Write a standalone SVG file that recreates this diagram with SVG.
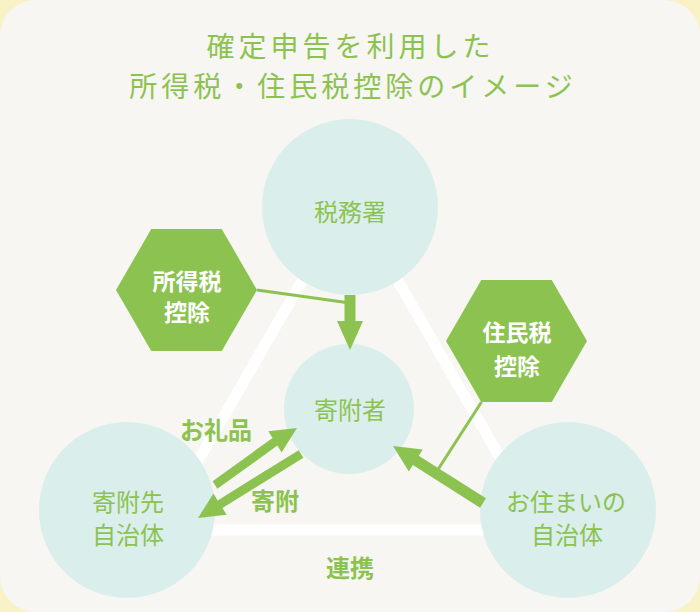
<svg xmlns="http://www.w3.org/2000/svg" width="700" height="612" viewBox="0 0 700 612">
<style>
.t{font-family:"Noto Sans CJK JP","Noto Sans",sans-serif;fill:#8cc350;text-anchor:middle}
.title{font-size:28px;font-weight:400;letter-spacing:4px}
.cl{font-size:24px;font-weight:400}
.hx{font-size:23px;font-weight:700;fill:#ffffff}
.lb{font-size:24px;font-weight:700}
.circ{fill:#daeeec}
.hex{fill:#8cc350}
.ar{fill:#8cc350}
.ln{stroke:#8cc350;stroke-width:3;fill:none}
</style>
<rect x="0" y="0" width="700" height="612" fill="#f8f2c6"/>
<rect x="0" y="0" width="700" height="612" rx="36" fill="#f7f6f2"/>
<g id="title">
<text class="t title" x="350.5" y="57">確定申告を利用した</text>
<text class="t title" x="353" y="97">所得税・住民税控除のイメージ</text>
</g>
<g id="network">
<polygon points="350,198 158,530 542,530" fill="none" stroke="#ffffff" stroke-width="11"/>
</g>
<g id="node-zeimusho">
<circle class="circ" cx="350" cy="207" r="88"/>
<text class="t cl" x="350" y="221">税務署</text>
</g>
<g id="node-kifusha">
<circle class="circ" cx="349" cy="409" r="65"/>
<text class="t cl" x="350" y="419">寄附者</text>
</g>
<g id="node-kifusaki">
<circle class="circ" cx="127" cy="510" r="88"/>
<text class="t cl" x="128" y="511">寄附先</text>
<text class="t cl" x="128" y="544">自治体</text>
</g>
<g id="node-sumai">
<circle class="circ" cx="568" cy="510" r="88"/>
<text class="t cl" x="566" y="511">お住まいの</text>
<text class="t cl" x="567" y="544">自治体</text>
</g>
<g id="node-shotokuzei">
<polygon class="hex" points="116,290 151.25,229 221.75,229 257,290 221.75,351 151.25,351"/>
<text class="t hx" x="187" y="290">所得税</text>
<text class="t hx" x="187" y="321">控除</text>
</g>
<g id="node-juminzei">
<polygon class="hex" points="446,341 481.25,280 551.75,280 587,341 551.75,402 481.25,402"/>
<text class="t hx" x="517" y="341">住民税</text>
<text class="t hx" x="517" y="375">控除</text>
</g>
<g id="connectors">
<line class="ln" x1="257" y1="290" x2="350" y2="303"/>
<line class="ln" x1="481.5" y1="402" x2="437" y2="471"/>
<polygon class="ar" points="344.5,295 355.5,295 355.5,321 363,321 350,350 337,321 344.5,321"/>
<polygon class="ar" points="485.94,498.35 418.74,455.75 422.76,449.41 393,446 408.84,471.39 412.86,465.05 480.06,507.65"/>
<polygon class="ar" points="217.39,488.82 277.34,445.6 281.58,452.38 297,428 268.32,431.18 272.57,437.96 212.62,481.18"/>
<polygon class="ar" points="303.39,457.82 222.44,508.04 226.68,514.82 198,518 213.42,493.62 217.67,500.4 298.62,450.18"/>
<text class="t lb" x="216" y="439">お礼品</text>
<text class="t lb" x="275" y="510">寄附</text>
<text class="t lb" x="350" y="577">連携</text>
</g>
</svg>
